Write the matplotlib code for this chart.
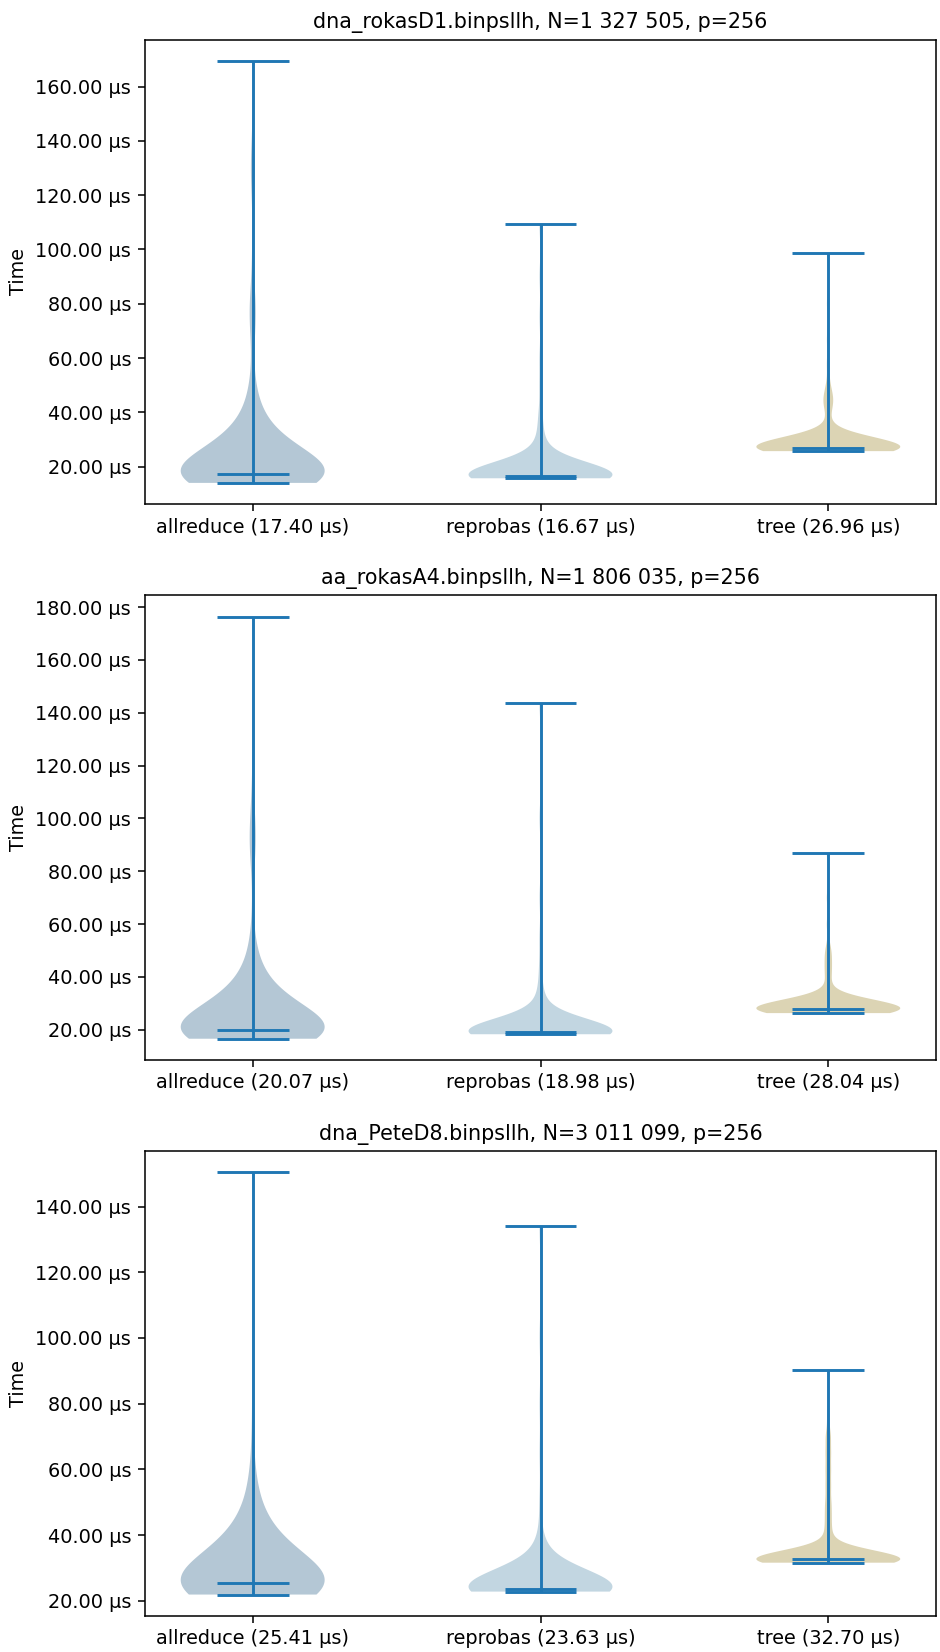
import numpy as np
import matplotlib
matplotlib.use("Agg")
import matplotlib.pyplot as plt
from matplotlib.ticker import FuncFormatter

titles = ["dna_rokasD1.binpsllh, N=1 327 505, p=256",
          "aa_rokasA4.binpsllh, N=1 806 035, p=256",
          "dna_PeteD8.binpsllh, N=3 011 099, p=256"]
algos = ["allreduce", "reprobas", "tree"]
medians = [[17.40, 16.67, 26.96], [20.07, 18.98, 28.04], [25.41, 23.63, 32.70]]
body_colors = ["#b4c7d5", "#c2d6e1", "#dcd4b4"]

rokasD1_allreduce_t = [14.0, 15.0, 16.0, 17.0, 17.4, 19, 22, 25, 28, 31, 35, 40, 45, 50, 60, 70, 77, 85, 100, 120, 130, 140, 169.5]
rokasD1_allreduce_n = [8, 22, 30, 26, 28, 16, 16, 14, 12, 10, 8, 4, 3, 2, 1, 2, 4, 2, 1, 1, 3, 1, 1]
rokasD1_reprobas_t = [15.7, 16.0, 16.3, 16.67, 18, 20, 22, 25, 28, 32, 36, 40, 50, 60, 75, 90, 109.3]
rokasD1_reprobas_n = [6, 14, 16, 20, 10, 7, 4, 2, 2, 1, 1, 1, 1, 1, 1, 1, 1]
rokasD1_tree_t = [25.7, 26.0, 26.5, 26.96, 28, 29, 30, 31, 32, 34, 40, 44, 46, 50, 58, 67, 80, 98.6]
rokasD1_tree_n = [4, 8, 10, 14, 8, 6, 4, 2, 1, 1, 1, 2, 1, 1, 1, 1, 1, 1]

rokasA4_allreduce_t = [16.6, 17.5, 18.5, 19.5, 20.07, 22, 25, 28, 31, 34, 38, 43, 48, 53, 63, 80, 88, 95, 103, 115, 140, 176.4]
rokasA4_allreduce_n = [8, 22, 30, 26, 28, 16, 16, 14, 12, 10, 8, 4, 3, 2, 1, 1, 3, 3, 2, 1, 1, 1]
rokasA4_reprobas_t = [18.3, 18.6, 18.8, 18.98, 20.5, 22.5, 24.5, 27, 30, 34, 38, 45, 55, 70, 100, 143.6]
rokasA4_reprobas_n = [6, 14, 16, 20, 10, 7, 4, 2, 2, 1, 1, 1, 1, 1, 1, 1]
rokasA4_tree_t = [26.3, 26.9, 27.5, 28.04, 29, 30, 31, 32.5, 34, 39, 42, 45, 48, 51, 60, 70, 86.8]
rokasA4_tree_n = [4, 8, 10, 14, 7, 5, 3, 2, 1, 1, 1, 1, 1, 1, 1, 1, 1]

PeteD8_allreduce_t = [21.9, 22.8, 23.8, 24.8, 25.41, 27, 30, 33, 36, 39, 43, 48, 53, 58, 65, 75, 90, 105, 120, 150.4]
PeteD8_allreduce_n = [8, 22, 30, 26, 28, 16, 16, 14, 12, 10, 8, 4, 3, 2, 1, 1, 1, 1, 1, 1]
PeteD8_reprobas_t = [22.8, 23.1, 23.4, 23.63, 25, 27, 29, 31, 34, 37, 40, 50, 65, 80, 100, 134.0]
PeteD8_reprobas_n = [6, 14, 16, 20, 10, 8, 5, 3, 2, 1, 1, 1, 1, 1, 1, 1]
PeteD8_tree_t = [31.6, 32.0, 32.4, 32.7, 33.5, 34.5, 35.5, 37, 39, 42, 46, 50, 55, 60, 65, 70, 76, 90.4]
PeteD8_tree_n = [6, 12, 14, 20, 8, 5, 3, 2, 1, 2, 2, 2, 2, 2, 2, 2, 1, 1]

# kde bandwidth in µs for each violin
bandwidths = [[8, 4.5, 3.3], [8, 4.5, 3.0], [8, 5, 2.5]]

panels = [
    [(rokasD1_allreduce_t, rokasD1_allreduce_n), (rokasD1_reprobas_t, rokasD1_reprobas_n), (rokasD1_tree_t, rokasD1_tree_n)],
    [(rokasA4_allreduce_t, rokasA4_allreduce_n), (rokasA4_reprobas_t, rokasA4_reprobas_n), (rokasA4_tree_t, rokasA4_tree_n)],
    [(PeteD8_allreduce_t, PeteD8_allreduce_n), (PeteD8_reprobas_t, PeteD8_reprobas_n), (PeteD8_tree_t, PeteD8_tree_n)],
]

dpi = 139
fig, axes = plt.subplots(3, 1, figsize=(940 / dpi, 1652 / dpi), dpi=dpi)
fig.subplots_adjust(left=0.154, right=0.996, top=0.976, bottom=0.022, hspace=0.197)

for k, ax in enumerate(axes):
    for i, (t, n) in enumerate(panels[k]):
        samples = np.repeat(t, n)
        factor = bandwidths[k][i] / np.std(samples, ddof=1)
        parts = ax.violinplot([samples], positions=[i + 1], showmedians=True,
                              bw_method=factor, points=400)
        for b in parts["bodies"]:
            b.set_facecolor(body_colors[i])
            b.set_edgecolor("none")
            b.set_alpha(1)
        for key in ["cbars", "cmins", "cmaxes", "cmedians"]:
            parts[key].set_color("#1f77b4")
    ax.set_xticks([1, 2, 3])
    ax.set_xticklabels([f"{a} ({m:.2f} µs)" for a, m in zip(algos, medians[k])])
    ax.yaxis.set_major_formatter(FuncFormatter(lambda v, p: f"{v:.2f} µs"))
    ax.set_ylabel("Time")
    ax.set_title(titles[k], fontsize=10.7)

fig.savefig("out.png", dpi=dpi)
